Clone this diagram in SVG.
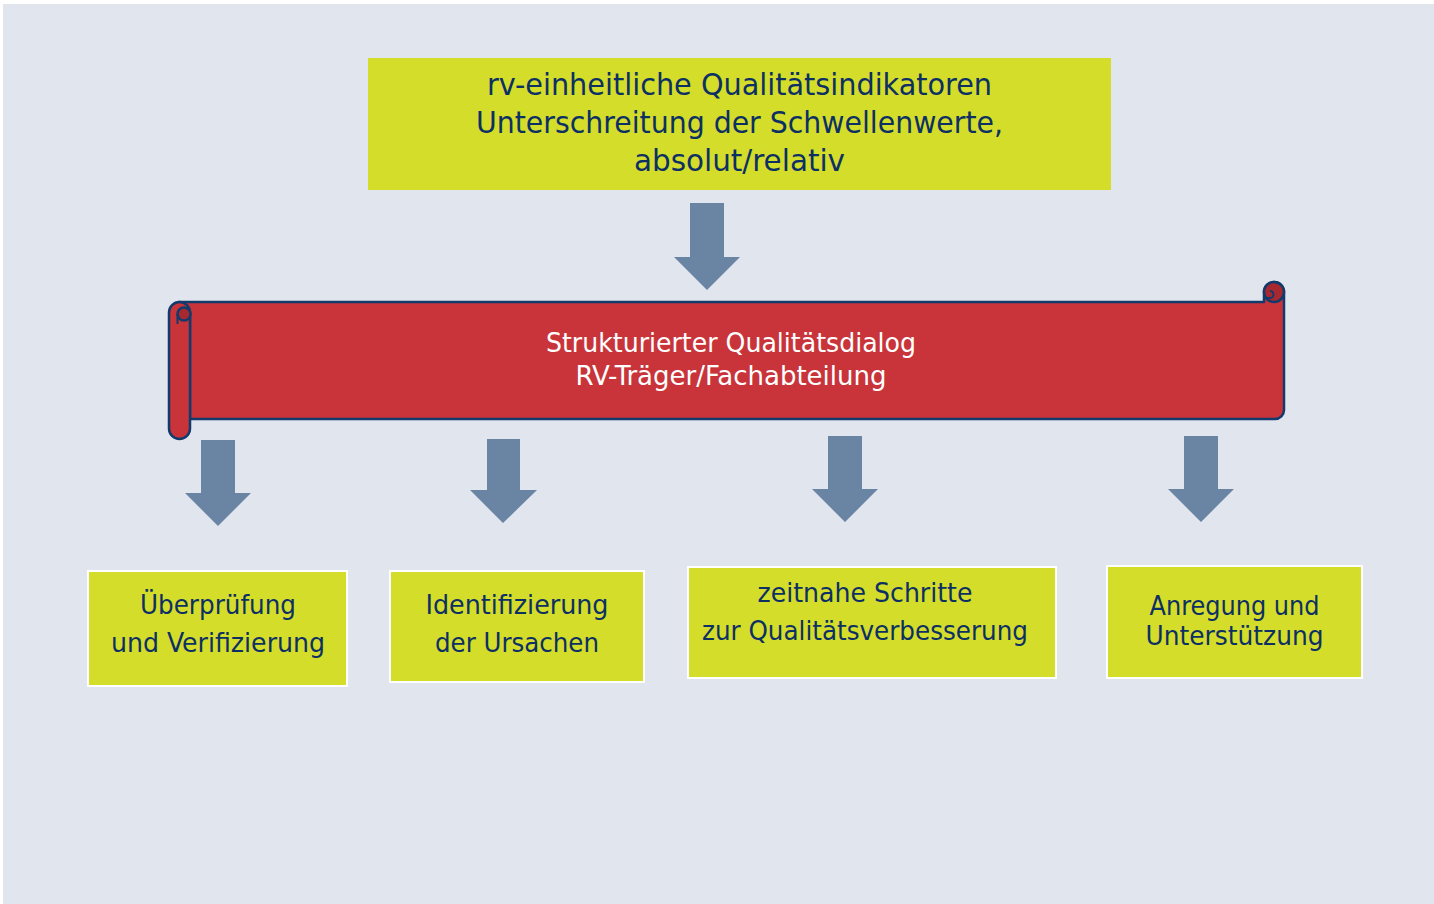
<svg xmlns="http://www.w3.org/2000/svg" width="1434" height="904" viewBox="0 0 1434 904">
<style>
.t{font-family:"DejaVu Sans Condensed","DejaVu Sans","Liberation Sans",sans-serif;text-anchor:middle;fill:#0d3064;font-size:27px}
.big{font-size:31px}
.w{fill:#ffffff}
.box{fill:#d4dd29}
.bb{stroke:#ffffff;stroke-width:2}
.arr{fill:#6a84a3}
.sc{fill:#c8343a;stroke:#123a6c;stroke-width:2.5;stroke-linejoin:round}
.dk{fill:#a8282f;stroke:#123a6c;stroke-width:2.5}
</style>
<rect x="0" y="0" width="1434" height="904" fill="#ffffff"/>
<rect x="3" y="4" width="1431" height="900" fill="#e0e5ee"/>

<g id="connectors">
<polygon class="arr" points="690,203 724,203 724,257 740,257 707,290 674,257 690,257"/>
<polygon class="arr" points="201,440 235,440 235,493 251,493 218,526 185,493 201,493"/>
<polygon class="arr" points="487,439 520,439 520,490 537,490 503,523 470,490 487,490"/>
<polygon class="arr" points="828,436 862,436 862,489 878,489 845,522 812,489 828,489"/>
<polygon class="arr" points="1184,436 1218,436 1218,489 1234,489 1201,522 1168,489 1184,489"/>
</g>

<g id="node-top">
<rect class="box" x="368" y="58" width="743" height="132"/>
<text class="t big" x="739.5" y="95" textLength="505" lengthAdjust="spacingAndGlyphs">rv-einheitliche Qualitätsindikatoren</text>
<text class="t big" x="739.5" y="133" textLength="527" lengthAdjust="spacingAndGlyphs">Unterschreitung der Schwellenwerte,</text>
<text class="t big" x="739.5" y="171" textLength="211" lengthAdjust="spacingAndGlyphs">absolut/relativ</text>
</g>

<g id="node-scroll">
<path class="sc" d="M179,302 H1264 V292 A10,10 0 0 1 1284,292 V410 A9,9 0 0 1 1275,419 H190 V313 Z"/>
<circle class="dk" cx="1274" cy="292" r="10"/>
<path d="M1264,292 V302 M1264,298 H1270 A3.5,3.5 0 0 0 1270,291" fill="none" stroke="#123a6c" stroke-width="2"/>
<rect class="sc" x="169" y="302" width="21" height="137" rx="10.5"/>
<circle class="dk" cx="184" cy="314" r="6.5"/>
<path d="M177.5,314 V324" fill="none" stroke="#123a6c" stroke-width="2"/>
<text class="t w" x="731" y="352" textLength="370" lengthAdjust="spacingAndGlyphs">Strukturierter Qualitätsdialog</text>
<text class="t w" x="731" y="385" textLength="311" lengthAdjust="spacingAndGlyphs">RV-Träger/Fachabteilung</text>
</g>

<g id="node-1">
<rect class="box bb" x="88" y="571" width="259" height="115"/>
<text class="t" x="218" y="614" textLength="156" lengthAdjust="spacingAndGlyphs">Überprüfung</text>
<text class="t" x="218" y="652" textLength="214" lengthAdjust="spacingAndGlyphs">und Verifizierung</text>
</g>

<g id="node-2">
<rect class="box bb" x="390" y="571" width="254" height="111"/>
<text class="t" x="517" y="614" textLength="183" lengthAdjust="spacingAndGlyphs">Identifizierung</text>
<text class="t" x="517" y="652" textLength="164" lengthAdjust="spacingAndGlyphs">der Ursachen</text>
</g>

<g id="node-3">
<rect class="box bb" x="688" y="567" width="368" height="111"/>
<text class="t" x="865" y="602" textLength="215" lengthAdjust="spacingAndGlyphs">zeitnahe Schritte</text>
<text class="t" x="865" y="640" textLength="326" lengthAdjust="spacingAndGlyphs">zur Qualitätsverbesserung</text>
</g>

<g id="node-4">
<rect class="box bb" x="1107" y="566" width="255" height="112"/>
<text class="t" x="1234.5" y="615" textLength="170" lengthAdjust="spacingAndGlyphs">Anregung und</text>
<text class="t" x="1234.5" y="645" textLength="178" lengthAdjust="spacingAndGlyphs">Unterstützung</text>
</g>
</svg>
